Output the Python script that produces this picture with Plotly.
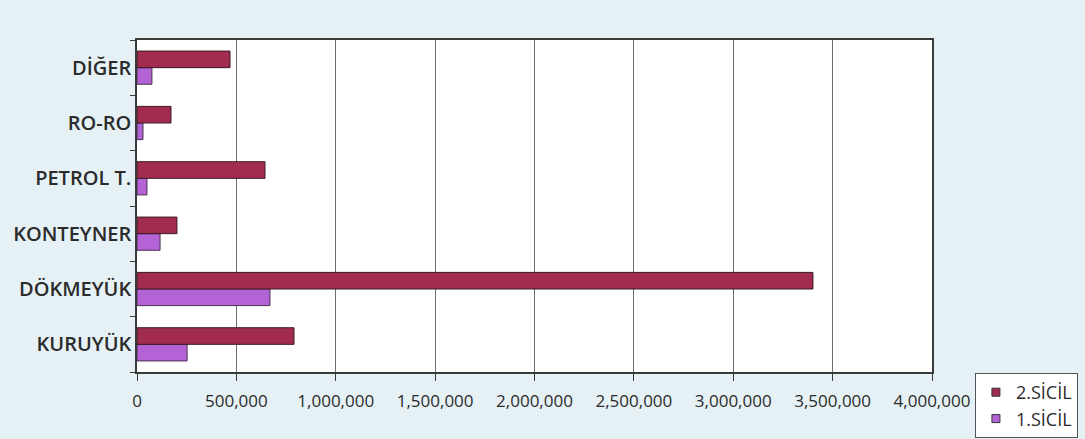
import plotly.graph_objects as go

# Ship categories, listed bottom to top as they appear on the axis
categories = ["KURUYÜK", "DÖKMEYÜK", "KONTEYNER", "PETROL T.", "RO-RO", "DİĞER"]
sicil_1 = [252000, 669000, 116000, 50000, 30000, 75000]
sicil_2 = [790000, 3401000, 201000, 644000, 171000, 468000]
x_ticks = [0, 500000, 1000000, 1500000, 2000000, 2500000, 3000000, 3500000, 4000000]
x_tick_text = ["0", "500,000", "1,000,000", "1,500,000", "2,000,000",
               "2,500,000", "3,000,000", "3,500,000", "4,000,000"]

color_1 = "#b463d6"
color_2 = "#a12c4f"

fig = go.Figure()
fig.add_trace(go.Bar(
    name="1.SİCİL", y=categories, x=sicil_1, orientation="h", showlegend=False,
    marker=dict(color=color_1, line=dict(color="#4a3050", width=1)),
))
fig.add_trace(go.Bar(
    name="2.SİCİL", y=categories, x=sicil_2, orientation="h", showlegend=False,
    marker=dict(color=color_2, line=dict(color="#3a1a22", width=1)),
))

# Legend keys drawn as small squares
for name, col, grp in [("2.SİCİL", color_2, "a"), ("1.SİCİL", color_1, "b")]:
    fig.add_trace(go.Scatter(
        x=[None], y=[None], mode="markers", name=name, legendgroup=grp,
        marker=dict(symbol="square", size=8, color=col,
                    line=dict(color="#333333", width=1)),
    ))

fig.update_layout(
    width=1085, height=439,
    margin=dict(l=137, r=153, t=40, b=67, autoexpand=False),
    paper_bgcolor="#e6f1f6",
    plot_bgcolor="#ffffff",
    barmode="group",
    bargap=0.4,
    bargroupgap=0.0,
    font=dict(family="Open Sans", color="#2b2b2b"),
    xaxis=dict(
        range=[0, 4000000], tickvals=x_ticks, ticktext=x_tick_text,
        showgrid=True, gridcolor="#6e6e6e", gridwidth=1,
        showline=True, linecolor="#3a3a3a", linewidth=1.5, mirror=True,
        ticks="outside", ticklen=7, tickcolor="#3a3a3a",
        ticklabelstandoff=6,
        tickfont=dict(size=17, weight=500, color="#2b2b2b"),
        zeroline=False, automargin=False,
    ),
    yaxis=dict(
        categoryorder="array", categoryarray=categories,
        showline=True, linecolor="#3a3a3a", linewidth=1.5, mirror=True,
        ticks="outside", ticklen=5, tickcolor="#3a3a3a", tickson="boundaries",
        tickfont=dict(size=20, weight=600, color="#2b2b2b"),
        showgrid=False, automargin=False,
    ),
    legend=dict(
        x=1.054, y=-0.003, xanchor="left", yanchor="top",
        traceorder="grouped", tracegroupgap=0,
        bgcolor="#ffffff", bordercolor="#555555", borderwidth=1,
        font=dict(size=18, weight=500, color="#2b2b2b"),
        itemwidth=30,
    ),
)

fig.write_html("out.html")
